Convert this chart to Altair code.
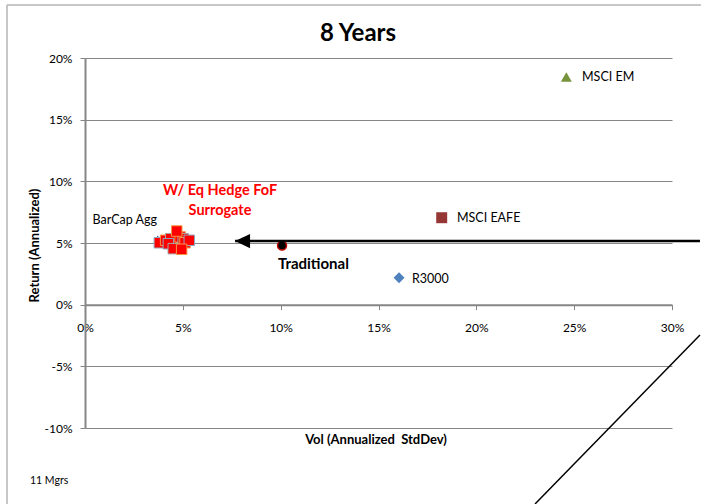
import altair as alt
import pandas as pd

FONT = "Lato"
GRID = "#868686"

# Benchmark indices: annualized volatility and return, in percent
idx_names = ["R3000", "MSCI EAFE", "MSCI EM"]
idx_vol = [16.05, 18.23, 24.6]
idx_ret = [2.19, 7.05, 18.45]
idx_shape = ["diamond", "square", "triangle-up"]
idx_color = ["#4F81BD", "#953735", "#77933C"]

# Traditional portfolio
trad_vol = [10.07]
trad_ret = [4.8]

# W/ Eq Hedge FoF surrogate managers (11)
mgr_vol = [3.80, 4.12, 4.38, 4.26, 4.86, 5.02, 5.11, 5.33, 4.69, 4.51, 4.94]
mgr_ret = [5.02, 5.22, 5.35, 4.94, 5.49, 5.35, 5.02, 5.22, 5.97, 4.54, 4.49]
mgr_edge = ["#8EA9C1", "#F79646", "#A6A6A6", "#8EA9C1", "#F79646", "#A6A6A6",
            "#F79646", "#8EA9C1", "#F79646", "#A6A6A6", "#F79646"]

# Annotation lines (data units)
arrow_vol = [7.67, 31.43]
arrow_ret = [5.16, 5.16]
diag_vol = [31.43, 23.0]
diag_ret = [-2.46, -16.16]
leader_vol = [3.68, 3.99]
leader_ret = [5.57, 5.16]

x_ticks = [0, 5, 10, 15, 20, 25, 30]
y_ticks = [-10, -5, 0, 5, 10, 15, 20]

W, H = 587, 370

xs = alt.Scale(domain=[0, 30], nice=False, zero=False)
ys = alt.Scale(domain=[-10, 20], nice=False, zero=False)

x_axis = alt.Axis(
    values=x_ticks, labelExpr="datum.value + '%'", grid=False,
    domainColor=GRID, domainWidth=2, tickColor=GRID, tickSize=5, tickWidth=1,
    labelPadding=13, labelFontSize=12, labelFont=FONT, labelColor="#000",
    labelFlush=False, labelOverlap=False, offset=-123.33,
    title="Vol (Annualized\u00a0 StdDev)", titleFont=FONT, titleFontSize=13,
    titleFontWeight="bold", titleColor="#000", titleX=W / 2 - 3, titleY=135,
    titleBaseline="middle", titleAlign="center",
)
y_axis = alt.Axis(
    values=y_ticks, labelExpr="datum.value + '%'", grid=True,
    gridColor=GRID, gridWidth=1, domainColor=GRID, domainWidth=2,
    tickColor=GRID, tickSize=5, tickWidth=1, labelPadding=8,
    labelFontSize=12, labelFont=FONT, labelColor="#000", labelFlush=False,
    title="Return (Annualized)", titleFont=FONT, titleFontSize=13,
    titleFontWeight="bold", titleColor="#000", titleX=-51, titleY=H / 2 + 2,
    titleAngle=-90, titleBaseline="middle", titleAlign="center",
)


def X(field="vol"):
    return alt.X(f"{field}:Q", scale=xs, axis=x_axis)


def Y(field="ret"):
    return alt.Y(f"{field}:Q", scale=ys, axis=y_axis)


one = alt.Data(values=[{}])

# Outer chart frame
frame_left = alt.Chart(one).mark_rule(color="#b4b4b4", strokeWidth=1.5).encode(
    x=alt.value(-78), y=alt.value(-53), y2=alt.value(H + 80)
)
frame_top = alt.Chart(one).mark_rule(color="#b4b4b4", strokeWidth=1.5).encode(
    x=alt.value(-78), x2=alt.value(W + 40), y=alt.value(-53)
)

title = alt.Chart(one).mark_text(
    text="8 Years", font=FONT, fontSize=24, fontWeight="bold",
    align="center", baseline="middle", color="#000",
).encode(x=alt.value(273), y=alt.value(-24))

note = alt.Chart(one).mark_text(
    text="11 Mgrs", font=FONT, fontSize=10.5, align="left", baseline="middle",
    color="#000",
).encode(x=alt.value(-55), y=alt.value(423))

idx_df = pd.DataFrame({"name": idx_names, "vol": idx_vol, "ret": idx_ret,
                       "shape": idx_shape, "color": idx_color})
idx_pts = alt.Chart(idx_df).mark_point(filled=True, size=120, opacity=1).encode(
    x=X(), y=Y(),
    shape=alt.Shape("shape:N", scale=None),
    color=alt.Color("color:N", scale=None),
)

mgr_df = pd.DataFrame({"vol": mgr_vol, "ret": mgr_ret, "edge": mgr_edge,
                       "order": list(range(len(mgr_vol)))})
mgr_pts = alt.Chart(mgr_df).mark_square(
    size=110, fill="#FF0000", strokeWidth=1, opacity=1
).encode(
    x=X(), y=Y(), stroke=alt.Stroke("edge:N", scale=None),
    order=alt.Order("order:Q"),
)

trad_df = pd.DataFrame({"vol": trad_vol, "ret": trad_ret})
trad_pt = alt.Chart(trad_df).mark_circle(
    size=80, color="#000", stroke="#C00000", strokeWidth=1.5, opacity=1
).encode(x=X(), y=Y())

arrow_df = pd.DataFrame({"vol": [arrow_vol[0]], "vol2": [arrow_vol[1]],
                         "ret": [arrow_ret[0]], "ret2": [arrow_ret[1]]})
arrow_line = alt.Chart(arrow_df).mark_rule(color="#000", strokeWidth=2.5).encode(
    x=X(), x2="vol2:Q", y=Y(), y2="ret2:Q"
)
arrow_head = alt.Chart(arrow_df).mark_point(
    shape="M 0 0 L 2 -0.95 L 2 0.95 Z", size=225, filled=True,
    color="#000", opacity=1,
).encode(x=X(), y=Y())

diag_df = pd.DataFrame({"vol": [diag_vol[0]], "vol2": [diag_vol[1]],
                        "ret": [diag_ret[0]], "ret2": [diag_ret[1]]})
diag_line = alt.Chart(diag_df).mark_rule(color="#000", strokeWidth=1.5).encode(
    x=X(), x2="vol2:Q", y=Y(), y2="ret2:Q"
)

leader_df = pd.DataFrame({"vol": [leader_vol[0]], "vol2": [leader_vol[1]],
                          "ret": [leader_ret[0]], "ret2": [leader_ret[1]]})
leader = alt.Chart(leader_df).mark_rule(color="#3B3F7A", strokeWidth=1).encode(
    x=X(), x2="vol2:Q", y=Y(), y2="ret2:Q"
)

# Point labels
lab_left = pd.DataFrame({
    "text": ["MSCI EM", "MSCI EAFE", "R3000"],
    "vol": [25.4, 19.01, 16.71],
    "ret": [18.42, 7.03, 2.08],
})
labels_left = alt.Chart(lab_left).mark_text(
    font=FONT, fontSize=12.5, align="left", baseline="middle", color="#000"
).encode(x=X(), y=Y(), text="text:N")

lab_right = pd.DataFrame({"text": ["BarCap Agg"], "vol": [3.68], "ret": [6.86]})
labels_right = alt.Chart(lab_right).mark_text(
    font=FONT, fontSize=12.5, align="right", baseline="middle", color="#000"
).encode(x=X(), y=Y(), text="text:N")

lab_hf = pd.DataFrame({"text": ["W/ Eq Hedge FoF", "Surrogate"],
                       "vol": [6.9, 6.9], "ret": [9.22, 7.59]})
labels_hf = alt.Chart(lab_hf).mark_text(
    font=FONT, fontSize=14.5, fontWeight="bold", align="center",
    baseline="middle", color="#FF0000"
).encode(x=X(), y=Y(), text="text:N")

lab_trad = pd.DataFrame({"text": ["Traditional"], "vol": [9.86], "ret": [3.3]})
labels_trad = alt.Chart(lab_trad).mark_text(
    font=FONT, fontSize=15, fontWeight="bold", align="left",
    baseline="middle", color="#000"
).encode(x=X(), y=Y(), text="text:N")

chart = alt.layer(
    frame_left, frame_top, title, note,
    idx_pts, leader, mgr_pts, trad_pt,
    arrow_line, arrow_head, diag_line,
    labels_left, labels_right, labels_hf, labels_trad,
).properties(
    width=W, height=H,
    padding={"left": 85, "top": 58, "right": 29, "bottom": 76},
    autosize="none", background="white",
).configure_view(stroke=None)

chart.save("out.html", embed_options={"renderer": "svg", "actions": False})
